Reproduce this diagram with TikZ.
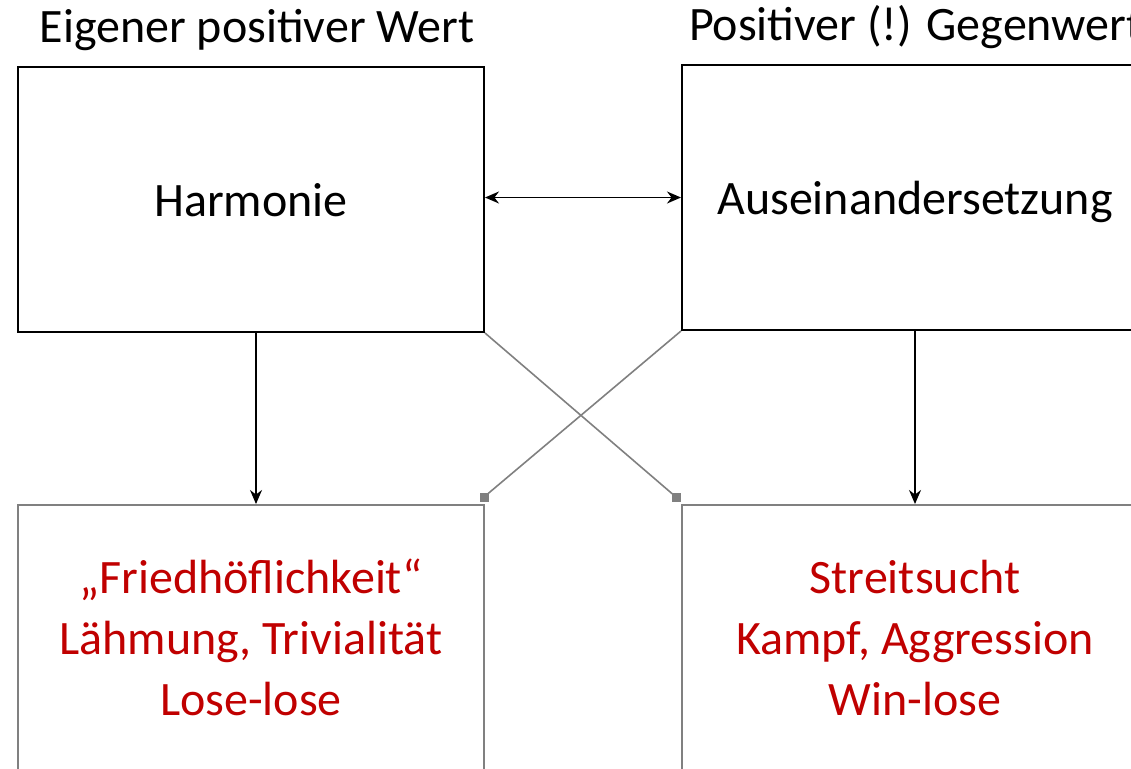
\documentclass[tikz,border=0pt]{standalone}
\usepackage{fontspec}
\setmainfont{Carlito}
\usepackage{tikz}
\usetikzlibrary{arrows.meta}
\definecolor{txtred}{HTML}{C00000}
\definecolor{linegray}{HTML}{808080}
\tikzset{
  topbox/.style={draw=black, line width=1pt, minimum width=233pt, minimum height=132.5pt, text depth=0pt, font=\fontsize{24}{30.5}\selectfont},
  botbox/.style={draw=linegray, line width=1pt, minimum width=233pt, minimum height=132.5pt, text=txtred, align=center, font=\fontsize{24}{30.5}\selectfont},
  title/.style={font=\fontsize{24}{29}\selectfont},
  link/.style={line width=0.75pt, {Stealth[length=7pt,width=6pt]}-{Stealth[length=7pt,width=6pt]}},
  down/.style={line width=0.75pt, -{Stealth[length=7pt,width=6pt]}},
  cross/.style={draw=linegray, line width=0.8pt},
  sqmark/.style={fill=linegray, inner sep=0pt, minimum size=4.5pt},
}

\begin{document}
\begin{tikzpicture}[x=0.5pt,y=-0.5pt]
\useasboundingbox (0,0) rectangle (1131,768);
\clip (0,0) rectangle (1131,768);
%%%%% Titles %%%%%
\node[title] (ownval) at (257,30) {Eigener positiver Wert};
\node[title, anchor=west] (counterval) at (682,27) {Positiver (!) Gegenwert};
%%%%% Boxes %%%%%
\node[topbox] (harm) at (251,199.5) {Harmonie};
\node[topbox] (ausein) at (915,197.5) {Auseinandersetzung};
\node[botbox] (fried) at (251,637.5) {„Friedhöflichkeit“\\Lähmung, Trivialität\\Lose-lose};
\node[botbox] (streit) at (915,637.5) {Streitsucht\\Kampf, Aggression\\Win-lose};
%%%%% Connectors %%%%%
\draw[link] (ausein.west -| harm.east) -- (ausein.west);
\draw[down] ([xshift=2.5pt]harm.south) -- ([xshift=2.5pt]fried.north);
\draw[down] (ausein.south) -- (streit.north);
\draw[cross] (harm.south east) -- ([shift={(-5,-7)}]streit.north west) node[sqmark] (endr) {};
\draw[cross] (ausein.south west) -- ([shift={(-1,-7)}]fried.north east) node[sqmark] (endl) {};
\end{tikzpicture}
\end{document}
